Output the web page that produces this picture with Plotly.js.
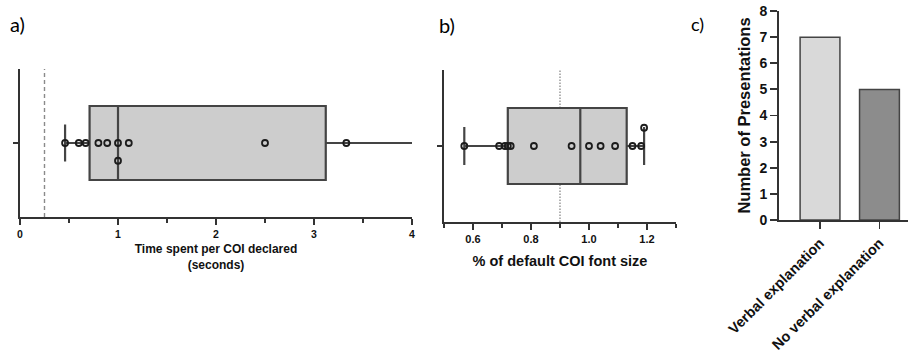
<!DOCTYPE html>
<html>
<head>
<meta charset="utf-8">
<script src="https://cdn.plot.ly/plotly-3.0.1.min.js"></script>
<style>html,body{margin:0;padding:0;background:#fff;}#chart{width:909px;height:356px;}</style>
</head>
<body>
<div id="chart"></div>
<script>
// ---- data ----
// a) Time spent per COI declared (seconds)
const timeValues = [0.46, 0.60, 0.67, 0.80, 0.89, 1.00, 1.00, 1.11, 2.50, 3.33];
const timeSwarm  = [0, 0, 0, 0, 0, 0, -0.24, 0, 0, 0];
const timeBox    = [0.46, 0.71, 1.00, 3.12, 4.30]; // min, q1, median, q3, max
const timeThreshold = [0.25];
const timeTicks = [0, 1, 2, 3, 4];
const timeTickLabels = ['0', '1', '2', '3', '4'];

// b) % of default COI font size
const fontValues = [0.57, 0.69, 0.71, 0.72, 0.73, 0.81, 0.94, 1.00, 1.04, 1.09, 1.15, 1.18, 1.19];
const fontSwarm  = [0, 0, 0, 0, 0, 0, 0, 0, 0, 0, 0, 0, 0.24];
const fontBox    = [0.57, 0.72, 0.97, 1.13, 1.19];
const fontThreshold = [0.9];
const fontTicks = [0.6, 0.8, 1.0, 1.2];
const fontTickLabels = ['0.6', '0.8', '1.0', '1.2'];

// c) Number of presentations
const categories = ['Verbal explanation', 'No verbal explanation'];
const counts = [7, 5];
const barColors = ['#d9d9d9', '#8c8c8c'];
const countTicks = [0, 1, 2, 3, 4, 5, 6, 7, 8];

// ---- styles ----
const AX = '#333333';
const TXT = '#111111';
const F = 'Liberation Sans';
const b = s => '<b>' + s + '</b>';

function boxTrace(stats, xa, ya) {
  return {
    type: 'box', orientation: 'h', xaxis: xa, yaxis: ya,
    y: [0], lowerfence: [stats[0]], q1: [stats[1]], median: [stats[2]],
    q3: [stats[3]], upperfence: [stats[4]],
    width: 1.0, whiskerwidth: 0.5, boxpoints: false,
    fillcolor: '#cdcdcd', line: {color: '#444444', width: 2.2},
    showlegend: false, hoverinfo: 'skip'
  };
}
function pointTrace(xs, ys, xa, ya) {
  return {
    type: 'scatter', mode: 'markers', xaxis: xa, yaxis: ya,
    x: xs, y: ys, cliponaxis: false,
    marker: {symbol: 'circle', size: 6, color: 'rgba(0,0,0,0)', line: {color: '#1c1c1c', width: 1.8}},
    showlegend: false, hoverinfo: 'skip'
  };
}

const traces = [
  boxTrace(timeBox, 'x', 'y'),
  pointTrace(timeValues, timeSwarm, 'x', 'y'),
  boxTrace(fontBox, 'x2', 'y2'),
  pointTrace(fontValues, fontSwarm, 'x2', 'y2'),
  {
    type: 'bar', xaxis: 'x3', yaxis: 'y3', x: categories, y: counts, width: 0.67,
    marker: {color: barColors, line: {color: '#444444', width: 1.5}},
    showlegend: false, hoverinfo: 'skip'
  }
];

const baseY = {
  range: [-1, 1], showline: true, linecolor: AX, linewidth: 2,
  tickvals: [0], ticktext: [''], ticks: 'outside', ticklen: 5, tickwidth: 1.5, tickcolor: AX,
  showgrid: false, zeroline: false, fixedrange: true
};

const layout = {
  width: 909, height: 356,
  margin: {l: 0, r: 0, t: 0, b: 0},
  paper_bgcolor: '#ffffff', plot_bgcolor: 'rgba(0,0,0,0)',
  font: {family: F, color: TXT},
  xaxis: {
    domain: [20/909, 412/909], anchor: 'y', range: [0, 4],
    tickvals: timeTicks, ticktext: timeTickLabels.map(b),
    ticks: 'outside', ticklen: 6, tickwidth: 1.5, tickcolor: AX,
    minor: {dtick: 0.5, ticks: 'outside', ticklen: 4, tickwidth: 1.5, tickcolor: AX},
    showline: true, linecolor: AX, linewidth: 2, showgrid: false, zeroline: false,
    tickfont: {family: F, size: 10.5, color: TXT, weight: 700},
    title: {text: b('Time spent per COI declared') + '<br>' + b('(seconds)'),
            font: {family: F, size: 12, color: TXT, weight: 700}, standoff: 6}
  },
  yaxis: Object.assign({}, baseY, {domain: [1 - 217/356, 1 - 69/356], anchor: 'x'}),
  xaxis2: {
    domain: [444/909, 676/909], anchor: 'y2', range: [0.5, 1.3],
    tickvals: fontTicks, ticktext: fontTickLabels.map(b),
    ticks: 'outside', ticklen: 6, tickwidth: 1.5, tickcolor: AX,
    minor: {dtick: 0.1, tick0: 0.5, ticks: 'outside', ticklen: 4, tickwidth: 1.5, tickcolor: AX},
    showline: true, linecolor: AX, linewidth: 2, showgrid: false, zeroline: false,
    tickfont: {family: F, size: 11, color: TXT, weight: 700},
    title: {text: b('% of default COI font size'), font: {family: F, size: 14.5, color: TXT, weight: 700}, standoff: 12}
  },
  yaxis2: Object.assign({}, baseY, {domain: [1 - 222/356, 1 - 70/356], anchor: 'x2'}),
  xaxis3: {
    domain: [779/909, 908/909], anchor: 'y3', type: 'category', range: [-0.69, 1.48],
    tickvals: categories, ticktext: categories.map(b),
    ticks: 'outside', ticklen: 7, tickwidth: 1.8, tickcolor: AX, tickangle: -45,
    showline: true, linecolor: AX, linewidth: 2, showgrid: false, zeroline: false,
    tickfont: {family: F, size: 14.5, color: TXT, weight: 700}
  },
  yaxis3: {
    domain: [1 - 220/356, 1 - 11/356], anchor: 'x3', range: [0, 8],
    tickvals: countTicks, ticktext: countTicks.map(v => b(String(v))),
    ticks: 'outside', ticklen: 7, tickwidth: 1.8, tickcolor: AX,
    showline: true, linecolor: AX, linewidth: 2, showgrid: false, zeroline: false,
    tickfont: {family: F, size: 14, color: TXT, weight: 700},
    title: {text: b('Number of Presentations'), font: {family: F, size: 16.5, color: TXT, weight: 700}, standoff: 5}
  },
  shapes: [
    {type: 'line', xref: 'x', yref: 'y domain', x0: timeThreshold[0], x1: timeThreshold[0], y0: 0, y1: 1,
     line: {color: '#8a8a8a', width: 1.4, dash: '4px,3px'}, layer: 'below'},
    {type: 'line', xref: 'x2', yref: 'y2 domain', x0: fontThreshold[0], x1: fontThreshold[0], y0: 0, y1: 1,
     line: {color: '#8a8a8a', width: 1.3, dash: '1.5px,1.5px'}, layer: 'below'}
  ],
  annotations: [
    {text: 'a)', xref: 'paper', yref: 'paper', x: 8/909, y: 1 - 24/356, xanchor: 'left', yanchor: 'middle',
     showarrow: false, font: {family: 'Lato, Open Sans, sans-serif', size: 20, color: '#000'}},
    {text: 'b)', xref: 'paper', yref: 'paper', x: 437/909, y: 1 - 25/356, xanchor: 'left', yanchor: 'middle',
     showarrow: false, font: {family: 'Lato, Open Sans, sans-serif', size: 20, color: '#000'}},
    {text: 'c)', xref: 'paper', yref: 'paper', x: 689/909, y: 1 - 24/356, xanchor: 'left', yanchor: 'middle',
     showarrow: false, font: {family: 'Lato, Open Sans, sans-serif', size: 18, color: '#000'}}
  ]
};

Plotly.newPlot('chart', traces, layout, {staticPlot: true, displayModeBar: false});
</script>
</body>
</html>
